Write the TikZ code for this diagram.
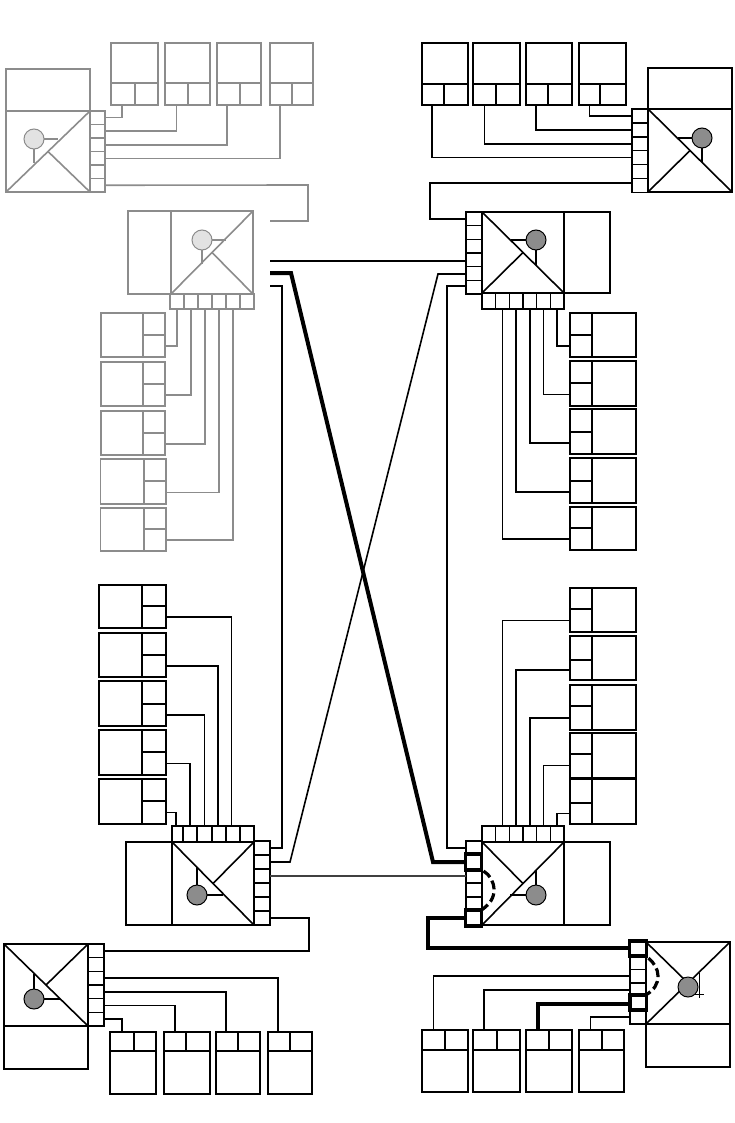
\documentclass[tikz,border=0pt]{standalone}
\definecolor{fade}{HTML}{8C8C8C}
\definecolor{lamplight}{HTML}{E2E2E2}
\definecolor{lampdark}{HTML}{8C8C8C}
\tikzset{
  px/.style={x=1pt,y=-1pt},
  boxed/.style={draw=#1,rectangle,line width=1.5pt,inner sep=0pt,outer sep=0pt,line join=miter},
  wire/.style={draw=#1,line width=1.6pt,line join=miter},
  thinwire/.style={draw=#1,line width=1.1pt,line join=miter},
  heavy/.style={draw=black,line width=4pt,line join=miter},
  lamp/.style n args={2}{circle,draw=#1,fill=#2,line width=1pt,minimum size=20pt,inner sep=0pt,outer sep=0pt},
  ring/.style={draw=black,line width=3.2pt,dash pattern=on 9pt off 4pt}
}
% rectangle node: colour, name, x1,y1,x2,y2
\newcommand\rbox[6]{%
  \pgfmathsetmacro\rw{#5-#3}\pgfmathsetmacro\rh{#6-#4}%
  \pgfmathsetmacro\rx{(#5+#3)/2}\pgfmathsetmacro\ry{(#6+#4)/2}%
  \node[boxed=#1,minimum width=\rw pt,minimum height=\rh pt] (#2) at (\rx,\ry) {};}
% six cells in a column / in a row
\newcommand\portsV[6]{%
  \foreach \i in {1,...,6}{%
    \pgfmathsetmacro\ca{#4+(#6-#4)*(\i-1)/6}\pgfmathsetmacro\cb{#4+(#6-#4)*\i/6}%
    \rbox{#1}{#2\i}{#3}{\ca}{#5}{\cb}}}
\newcommand\portsH[6]{%
  \foreach \i in {1,...,6}{%
    \pgfmathsetmacro\ca{#3+(#5-#3)*(\i-1)/6}\pgfmathsetmacro\cb{#3+(#5-#3)*\i/6}%
    \rbox{#1}{#2\i}{\ca}{#4}{\cb}{#6}}}
% cards: colour,name,x1,x2,xv,y1,yd,y2 - body above, two cells below
\newcommand\cardD[8]{\rbox{#1}{#2b}{#3}{#6}{#4}{#7}\rbox{#1}{#2p}{#3}{#7}{#5}{#8}\rbox{#1}{#2q}{#5}{#7}{#4}{#8}}
% two cells above, body below
\newcommand\cardU[8]{\rbox{#1}{#2b}{#3}{#7}{#4}{#8}\rbox{#1}{#2p}{#3}{#6}{#5}{#7}\rbox{#1}{#2q}{#5}{#6}{#4}{#7}}
% body left, cells right: colour,name,x1,xv,x2,y1,ym,y2
\newcommand\cardR[8]{\rbox{#1}{#2b}{#3}{#6}{#4}{#8}\rbox{#1}{#2t}{#4}{#6}{#5}{#7}\rbox{#1}{#2p}{#4}{#7}{#5}{#8}}
% cells left, body right: colour,name,x1,xv,x2,y1,ym,y2
\newcommand\cardL[8]{\rbox{#1}{#2b}{#4}{#6}{#5}{#8}\rbox{#1}{#2t}{#3}{#6}{#4}{#7}\rbox{#1}{#2p}{#3}{#7}{#4}{#8}}
\begin{document}
\begin{tikzpicture}[px]
\useasboundingbox (0,0) rectangle (735,1123);
\fill[white] (0,0) rectangle (735,1123);

%% ---------- top left (faded) ----------
\rbox{fade}{Ahead}{6}{69}{90}{111}
\rbox{fade}{Amain}{6}{111}{90}{192}
\portsV{fade}{A}{90}{111}{105}{192}
\draw[wire=fade] (Amain.south west) -- (Amain.north east);
\draw[wire=fade] (Amain.center) -- (Amain.south east);
\node[lamp={fade}{lamplight}] (Alamp) at (34,139) {};
\draw[thinwire=fade] (Alamp.east) -- +(14,0);
\draw[thinwire=fade] (Alamp.south) -- +(0,14);
\cardD{fade}{a1}{111}{158}{135}{43}{83}{105}
\cardD{fade}{a2}{165}{210}{188}{43}{83}{105}
\cardD{fade}{a3}{217}{261}{240}{43}{83}{105}
\cardD{fade}{a4}{270}{313}{292}{43}{83}{105}
\draw[thinwire=fade] (A1.east) -| ([xshift=-1pt]a1p.south);
\draw[wire=fade] (A2.east) -| (a2p.south);
\draw[wire=fade] (A3.east) -| ([xshift=-1.5pt]a3p.south);
\draw[thinwire=fade] (A4.east) -| ([xshift=-1pt]a4p.south);

%% ---------- faded switch, upper middle ----------
\rbox{fade}{Bside}{128}{211}{171}{294}
\rbox{fade}{Bmain}{171}{211}{253}{294}
\portsH{fade}{B}{170}{294}{254}{309}
\draw[wire=fade] (Bmain.south west) -- (Bmain.north east);
\draw[wire=fade] (Bmain.center) -- (Bmain.south east);
\node[lamp={fade}{lamplight}] (Blamp) at (202,240) {};
\draw[thinwire=fade] (Blamp.east) -- +(14,0);
\draw[thinwire=fade] (Blamp.south) -- +(0,14);
\coordinate (Bt) at (270,221);
\coordinate (Abend) at (308,185);
\draw[wire=fade] (A6.east) -- (Abend) |- (Bt);

\cardR{fade}{b1}{101}{143}{165}{313}{335}{357}
\cardR{fade}{b2}{101}{143}{165}{362}{384}{406}
\cardR{fade}{b3}{101}{143}{165}{411}{433}{455}
\cardR{fade}{b4}{100.5}{144}{166}{459}{481}{504}
\cardR{fade}{b5}{100.5}{144}{166}{508}{529}{551}
\draw[thinwire=fade] (b1p.east) -| (B1.south);
\draw[wire=fade] (b2p.east) -| (B2.south);
\draw[wire=fade] (b3p.east) -| (B3.south);
\draw[wire=fade] (b4p.east) -| (B4.south);
\draw[wire=fade] (b5p.east) -| (B5.south);

%% ---------- top right ----------
\rbox{black}{Ehead}{648}{68}{732}{109}
\rbox{black}{Emain}{648}{109}{732}{192}
\portsV{black}{E}{632}{109}{648}{192.5}
\draw[wire=black] (Emain.north west) -- (Emain.south east);
\draw[wire=black] (Emain.south west) -- (Emain.center);
\node[lamp={black}{lampdark}] (Elamp) at (702,138) {};
\draw[wire=black] (Elamp.west) -- +(-14,0);
\draw[wire=black] (Elamp.south) -- +(0,14);
\cardD{black}{e1}{422}{468}{444}{43}{84}{105}
\cardD{black}{e2}{473}{520}{496}{43}{84}{105}
\cardD{black}{e3}{526}{572}{548}{43}{84}{105}
\cardD{black}{e4}{579}{626}{600}{43}{84}{105}
\draw[wire=black] (E1.west) -| (e4p.south);
\draw[wire=black] (E2.west) -| ([xshift=-1pt]e3p.south);
\draw[wire=black] (E3.west) -| (e2p.south);
\draw[thinwire=black] (E4.west) -| ([xshift=-1pt]e1p.south);

%% ---------- right switch, upper middle ----------
\rbox{black}{Fmain}{482}{212}{564}{293}
\rbox{black}{Fside}{564}{212}{610}{293}
\portsV{black}{F}{466}{212}{482}{294}
\portsH{black}{Fb}{482}{293}{564}{309}
\draw[wire=black] (Fmain.north west) -- (Fmain.south east);
\draw[wire=black] (Fmain.south west) -- (Fmain.center);
\node[lamp={black}{lampdark}] (Flamp) at (536,240) {};
\draw[wire=black] (Flamp.west) -- +(-15,0);
\draw[wire=black] (Flamp.south) -- +(0,15);
\coordinate (Ebend) at (430,183);
\draw[wire=black] (Ebend -| E6.west) -- (Ebend) |- (F1.west);

\cardL{black}{f1}{570}{592}{636}{313}{335}{357}
\cardL{black}{f2}{570}{592}{636}{361}{383}{406}
\cardL{black}{f3}{570}{592}{636}{409}{432}{454}
\cardL{black}{f4}{570}{592}{636}{458}{481}{503}
\cardL{black}{f5}{570}{592}{636}{507}{528}{550}
\draw[wire=black] (f1p.west) -| (Fb6.south);
\draw[wire=black] (f2p.west) -| (Fb5.south);
\draw[wire=black] (f3p.west) -| (Fb4.south);
\draw[wire=black] (f4p.west) -| (Fb3.south);
\draw[wire=black] (f5p.west) -| (Fb2.south);

%% ---------- lower left switch ----------
\rbox{black}{Cside}{126}{842}{172}{925}
\rbox{black}{Cmain}{172}{842}{254}{925}
\rbox{black}{Ct1}{172}{826}{183}{841.5}
\rbox{black}{Ct2}{183}{826}{197}{841.5}
\rbox{black}{Ct3}{197}{826}{212}{841.5}
\rbox{black}{Ct4}{212}{826}{226}{841.5}
\rbox{black}{Ct5}{226}{826}{240}{841.5}
\rbox{black}{Ct6}{240}{826}{254}{841.5}
\portsV{black}{C}{254}{841}{270}{925}
\draw[wire=black] (Cmain.north west) -- (Cmain.south east);
\draw[wire=black] (Cmain.north east) -- (Cmain.center);
\node[lamp={black}{lampdark}] (Clamp) at (197,895) {};
\draw[wire=black] (Clamp.east) -- +(16,0);
\draw[wire=black] (Clamp.north) -- +(0,-18);

\cardR{black}{c1}{99}{142}{166}{585}{606}{628}
\cardR{black}{c2}{99}{142}{166}{633}{655}{677}
\cardR{black}{c3}{99}{142}{166}{681}{704}{726}
\cardR{black}{c4}{99}{142}{166}{730}{752}{775}
\cardR{black}{c5}{99}{142}{166}{779}{801}{824}
\draw[thinwire=black] (c1p.east) -| ([xshift=-1.5pt]Ct5.north);
\draw[wire=black] (c2p.east) -| ([xshift=-1pt]Ct4.north);
\draw[wire=black] (c3p.east) -| (Ct3.north);
\draw[wire=black] (c4p.east) -| (Ct2.north);
\draw[wire=black] (c5p.east) -| ([xshift=-1.5pt]Ct1.north);

%% ---------- lower right switch ----------
\rbox{black}{Gmain}{482}{842}{564}{925}
\rbox{black}{Gside}{564}{842}{610}{925}
\portsV{black}{G}{466}{841}{482}{925}
\portsH{black}{Gt}{482}{826}{564}{841.5}
\draw[wire=black] (Gmain.south west) -- (Gmain.north east);
\draw[wire=black] (Gmain.north west) -- (Gmain.center);
\node[lamp={black}{lampdark}] (Glamp) at (536,895) {};
\draw[wire=black] (Glamp.west) -- +(-16,0);
\draw[wire=black] (Glamp.north) -- +(0,-15);

\cardL{black}{g1}{570}{592}{636}{588}{609}{632}
\cardL{black}{g2}{570}{592}{636}{636}{660}{680}
\cardL{black}{g3}{570}{592}{636}{685}{706}{730}
\cardL{black}{g4}{570}{592}{636}{733}{754}{777.5}
\cardL{black}{g5}{570}{592}{636}{779}{803}{824}
\draw[wire=black] (g1p.west) -| (Gt2.north);
\draw[wire=black] (g2p.west) -| (Gt3.north);
\draw[wire=black] (g3p.west) -| (Gt4.north);
\draw[thinwire=black] (g4p.west) -| (Gt5.north);
\draw[wire=black] (g5p.west) -| (Gt6.north);

%% ---------- bottom left ----------
\rbox{black}{Dmain}{4}{944}{88}{1026}
\rbox{black}{Dfoot}{4}{1026}{88}{1069}
\portsV{black}{D}{88}{944}{104}{1026}
\draw[wire=black] (Dmain.north west) -- (Dmain.south east);
\draw[wire=black] (Dmain.north east) -- (Dmain.center);
\node[lamp={black}{lampdark}] (Dlamp) at (34,999) {};
\draw[wire=black] (Dlamp.east) -- +(16,0);
\draw[wire=black] (Dlamp.north) -- +(0,-15);
\cardU{black}{d1}{110}{156}{134}{1032}{1051}{1094}
\cardU{black}{d2}{164}{210}{186}{1032}{1051}{1094}
\cardU{black}{d3}{216}{260}{238}{1032}{1051}{1094}
\cardU{black}{d4}{268}{312}{290}{1032}{1051}{1094}
\draw[wire=black] (D6.east) -| (d1p.north);
\draw[wire=black] (D5.east) -| (d2p.north);
\draw[wire=black] (D4.east) -| ([xshift=-1pt]d3p.north);
\draw[wire=black] (D3.east) -| ([xshift=-1pt]d4p.north);
\coordinate (Cbend) at (309,918);
\draw[wire=black] (C6.east) -- (Cbend) |- (D1.east);

%% ---------- bottom right ----------
\rbox{black}{Hmain}{646}{942}{730}{1024}
\rbox{black}{Hfoot}{646}{1024}{730}{1067}
\portsV{black}{H}{630}{942}{646}{1024}
\draw[wire=black] (Hmain.south west) -- (Hmain.north east);
\draw[wire=black] (Hmain.north west) -- (Hmain.center);
\node[lamp={black}{lampdark}] (Hlamp) at (688,987) {};
\coordinate (Hup) at (699,973);
\coordinate (Hdn) at (699,998);
\coordinate (Hl) at (695,994);
\coordinate (Hr) at (704,994);
\draw[line width=0.7pt] (Hup) -- (Hdn) (Hl) -- (Hr);
\cardU{black}{h1}{422}{468}{445}{1030}{1050}{1092}
\cardU{black}{h2}{473}{520}{497}{1030}{1050}{1092}
\cardU{black}{h3}{526}{572}{549}{1030}{1050}{1092}
\cardU{black}{h4}{579}{624}{602}{1030}{1050}{1092}
\draw[wire=black] (H3.west) -| (h1p.north);
\draw[wire=black] (H4.west) -| ([xshift=-1pt]h2p.north);
\draw[heavy] (H5.west) -| (h3p.north);
\draw[wire=black] (H6.west) -| (h4p.north);

%% ---------- long links ----------
\coordinate (Fa) at (270,261);
\coordinate (Fo) at (270,273);
\coordinate (Fu) at (270,286);
\coordinate (cr1) at (291,273);
\coordinate (cr2) at (433,862);
\coordinate (cr3) at (290,862);
\coordinate (cr4) at (438,274);
\coordinate (up1) at (282,286);
\coordinate (up2) at (447,286);
\draw[thinwire=black] (Fa) -- (Fa -| F4.west);
\draw[wire=black] (Fu) -- (up1) |- (C1.east);
\draw[wire=black] (C2.east) -- (cr3) -- (cr4) -- (cr4 -| F5.west);
\draw[wire=black] (up2 -| F6.west) -- (up2) |- (G1.west);
\draw[wire=black!75] (C3.east) -- (G3.west);
\draw[heavy] (Fo) -- (cr1) -- (cr2) -- (G2.west);
\coordinate (hb1) at (428,918);
\coordinate (hb2) at (428,948);
\draw[heavy] (G6.west) -- (hb1) -- (hb2) -- (hb2 -| H1.west);

%% ---------- highlighted ports and rings ----------
\rbox{black,line width=3.4pt}{Gm1}{465.5}{854}{481.5}{870}
\rbox{black,line width=3.4pt}{Gm2}{465.5}{910}{481.5}{926}
\rbox{black,line width=3.4pt}{Hm1}{629.5}{941}{646.5}{956}
\rbox{black,line width=3.4pt}{Hm2}{630}{994.5}{646.5}{1010}
\draw[ring] (Gm1.south east) ++(2,1) .. controls (490,875) and (494,882) .. (494,890) .. controls (494,898) and (490,904) .. (Gm2.north east);
\draw[ring] (Hm1.south east) ++(2,2) .. controls (654,963) and (658,969) .. (658,976) .. controls (658,984) and (654,990) .. (Hm2.north east);
\end{tikzpicture}
\end{document}
